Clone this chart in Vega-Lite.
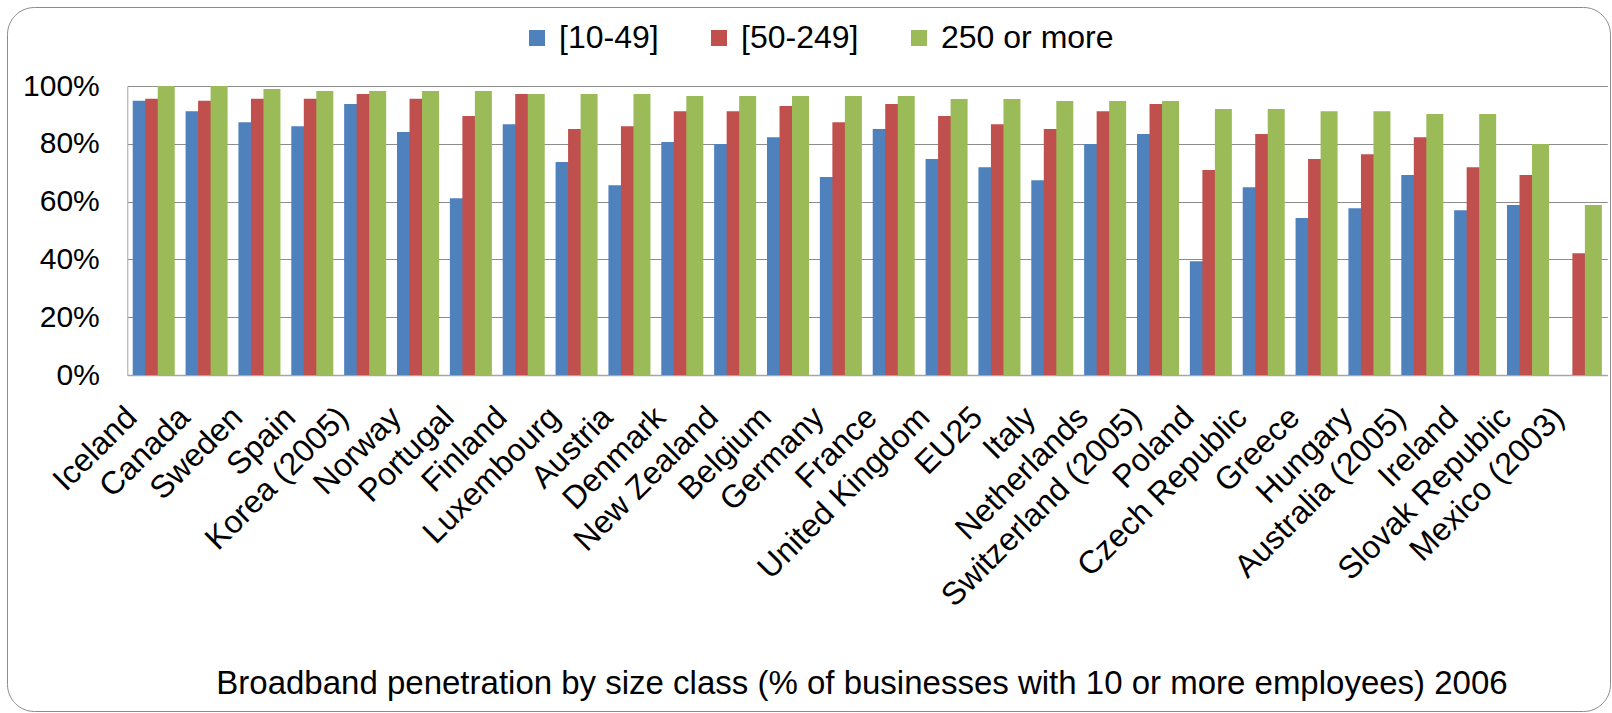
{
  "$schema": "https://vega.github.io/schema/vega-lite/v6.json",
  "width": 1603,
  "height": 704,
  "autosize": {"type": "none"},
  "padding": {"left": 7, "top": 7, "right": 2, "bottom": 2},
  "background": "white",
  "config": {
    "view": {"stroke": "#8C8C8C", "strokeWidth": 1, "cornerRadius": 27, "fill": "white"},
    "font": "Liberation Sans"
  },
  "data": {
    "values": [
      {"country": "Iceland", "size": "[10-49]", "pct": 94.9},
      {"country": "Iceland", "size": "[50-249]", "pct": 95.6},
      {"country": "Iceland", "size": "250 or more", "pct": 100},
      {"country": "Canada", "size": "[10-49]", "pct": 91.3},
      {"country": "Canada", "size": "[50-249]", "pct": 94.9},
      {"country": "Canada", "size": "250 or more", "pct": 100},
      {"country": "Sweden", "size": "[10-49]", "pct": 87.5},
      {"country": "Sweden", "size": "[50-249]", "pct": 95.6},
      {"country": "Sweden", "size": "250 or more", "pct": 99.0},
      {"country": "Spain", "size": "[10-49]", "pct": 86.1},
      {"country": "Spain", "size": "[50-249]", "pct": 95.6},
      {"country": "Spain", "size": "250 or more", "pct": 98.3},
      {"country": "Korea (2005)", "size": "[10-49]", "pct": 93.8},
      {"country": "Korea (2005)", "size": "[50-249]", "pct": 97.2},
      {"country": "Korea (2005)", "size": "250 or more", "pct": 98.3},
      {"country": "Norway", "size": "[10-49]", "pct": 84.1},
      {"country": "Norway", "size": "[50-249]", "pct": 95.6},
      {"country": "Norway", "size": "250 or more", "pct": 98.3},
      {"country": "Portugal", "size": "[10-49]", "pct": 61.2},
      {"country": "Portugal", "size": "[50-249]", "pct": 89.6},
      {"country": "Portugal", "size": "250 or more", "pct": 98.3},
      {"country": "Finland", "size": "[10-49]", "pct": 86.8},
      {"country": "Finland", "size": "[50-249]", "pct": 97.2},
      {"country": "Finland", "size": "250 or more", "pct": 97.2},
      {"country": "Luxembourg", "size": "[10-49]", "pct": 73.7},
      {"country": "Luxembourg", "size": "[50-249]", "pct": 85.1},
      {"country": "Luxembourg", "size": "250 or more", "pct": 97.2},
      {"country": "Austria", "size": "[10-49]", "pct": 65.7},
      {"country": "Austria", "size": "[50-249]", "pct": 86.1},
      {"country": "Austria", "size": "250 or more", "pct": 97.2},
      {"country": "Denmark", "size": "[10-49]", "pct": 80.6},
      {"country": "Denmark", "size": "[50-249]", "pct": 91.3},
      {"country": "Denmark", "size": "250 or more", "pct": 96.5},
      {"country": "New Zealand", "size": "[10-49]", "pct": 79.9},
      {"country": "New Zealand", "size": "[50-249]", "pct": 91.3},
      {"country": "New Zealand", "size": "250 or more", "pct": 96.5},
      {"country": "Belgium", "size": "[10-49]", "pct": 82.3},
      {"country": "Belgium", "size": "[50-249]", "pct": 93.1},
      {"country": "Belgium", "size": "250 or more", "pct": 96.5},
      {"country": "Germany", "size": "[10-49]", "pct": 68.5},
      {"country": "Germany", "size": "[50-249]", "pct": 87.5},
      {"country": "Germany", "size": "250 or more", "pct": 96.5},
      {"country": "France", "size": "[10-49]", "pct": 85.1},
      {"country": "France", "size": "[50-249]", "pct": 93.8},
      {"country": "France", "size": "250 or more", "pct": 96.5},
      {"country": "United Kingdom", "size": "[10-49]", "pct": 74.7},
      {"country": "United Kingdom", "size": "[50-249]", "pct": 89.6},
      {"country": "United Kingdom", "size": "250 or more", "pct": 95.5},
      {"country": "EU25", "size": "[10-49]", "pct": 71.9},
      {"country": "EU25", "size": "[50-249]", "pct": 86.8},
      {"country": "EU25", "size": "250 or more", "pct": 95.5},
      {"country": "Italy", "size": "[10-49]", "pct": 67.4},
      {"country": "Italy", "size": "[50-249]", "pct": 85.1},
      {"country": "Italy", "size": "250 or more", "pct": 94.8},
      {"country": "Netherlands", "size": "[10-49]", "pct": 79.9},
      {"country": "Netherlands", "size": "[50-249]", "pct": 91.3},
      {"country": "Netherlands", "size": "250 or more", "pct": 94.8},
      {"country": "Switzerland (2005)", "size": "[10-49]", "pct": 83.4},
      {"country": "Switzerland (2005)", "size": "[50-249]", "pct": 93.8},
      {"country": "Switzerland (2005)", "size": "250 or more", "pct": 94.8},
      {"country": "Poland", "size": "[10-49]", "pct": 39.4},
      {"country": "Poland", "size": "[50-249]", "pct": 70.9},
      {"country": "Poland", "size": "250 or more", "pct": 92.0},
      {"country": "Czech Republic", "size": "[10-49]", "pct": 65.0},
      {"country": "Czech Republic", "size": "[50-249]", "pct": 83.4},
      {"country": "Czech Republic", "size": "250 or more", "pct": 92.0},
      {"country": "Greece", "size": "[10-49]", "pct": 54.3},
      {"country": "Greece", "size": "[50-249]", "pct": 74.7},
      {"country": "Greece", "size": "250 or more", "pct": 91.3},
      {"country": "Hungary", "size": "[10-49]", "pct": 57.7},
      {"country": "Hungary", "size": "[50-249]", "pct": 76.4},
      {"country": "Hungary", "size": "250 or more", "pct": 91.3},
      {"country": "Australia (2005)", "size": "[10-49]", "pct": 69.2},
      {"country": "Australia (2005)", "size": "[50-249]", "pct": 82.3},
      {"country": "Australia (2005)", "size": "250 or more", "pct": 90.3},
      {"country": "Ireland", "size": "[10-49]", "pct": 57.0},
      {"country": "Ireland", "size": "[50-249]", "pct": 71.9},
      {"country": "Ireland", "size": "250 or more", "pct": 90.3},
      {"country": "Slovak Republic", "size": "[10-49]", "pct": 58.8},
      {"country": "Slovak Republic", "size": "[50-249]", "pct": 69.2},
      {"country": "Slovak Republic", "size": "250 or more", "pct": 79.9},
      {"country": "Mexico (2003)", "size": "[50-249]", "pct": 42.1},
      {"country": "Mexico (2003)", "size": "250 or more", "pct": 58.8}
    ]
  },
  "mark": {"type": "bar", "size": 17},
  "encoding": {
    "x": {
      "field": "country",
      "type": "nominal",
      "sort": null,
      "scale": {"range": [120.3, 1600.3], "paddingInner": 0.29, "paddingOuter": 0.145},
      "axis": {
        "title": "Broadband penetration by size class (% of businesses with 10 or more employees) 2006",
        "titleFont": "Liberation Sans",
        "titleFontSize": 33,
        "titleFontWeight": "normal",
        "titleColor": "black",
        "titleBaseline": "alphabetic",
        "titleAlign": "center",
        "titleAnchor": "middle",
        "titleX": 854.5,
        "titleY": 318,
        "offset": -336,
        "labelAngle": -45,
        "labelAlign": "right",
        "labelBaseline": "alphabetic",
        "labelFont": "Liberation Sans",
        "labelFontSize": 32,
        "labelColor": "black",
        "labelPadding": 44,
        "labelOffset": -15,
        "labelLimit": 0,
        "labelOverlap": false,
        "labelBound": false,
        "labelFlush": false,
        "ticks": false,
        "tickSize": 0,
        "domain": true,
        "domainColor": "#A6A6A6",
        "domainWidth": 1.5,
        "grid": false
      }
    },
    "xOffset": {
      "field": "size",
      "type": "nominal",
      "scale": {"domain": ["[10-49]", "[50-249]", "250 or more"], "paddingInner": 0, "paddingOuter": 0}
    },
    "y": {
      "field": "pct",
      "type": "quantitative",
      "scale": {"domain": [0, 100], "nice": false, "zero": true, "range": [368, 79]},
      "axis": {
        "title": null,
        "offset": -120.3,
        "values": [0, 20, 40, 60, 80, 100],
        "labelExpr": "datum.value + '%'",
        "labelFont": "Liberation Sans",
        "labelFontSize": 30,
        "labelColor": "black",
        "labelPadding": 28,
        "ticks": false,
        "tickSize": 0,
        "domain": true,
        "domainColor": "#A6A6A6",
        "domainWidth": 1,
        "grid": true,
        "gridColor": "#8C8C8C",
        "gridWidth": 1
      }
    },
    "color": {
      "field": "size",
      "type": "nominal",
      "scale": {
        "domain": ["[10-49]", "[50-249]", "250 or more"],
        "range": ["#4F81BD", "#C0504D", "#9BBB59"]
      },
      "legend": {
        "title": null,
        "orient": "none",
        "direction": "horizontal",
        "legendX": 514,
        "legendY": 15,
        "padding": 0,
        "symbolType": "square",
        "symbolSize": 256,
        "symbolStrokeWidth": 0,
        "symbolOpacity": 1,
        "labelFont": "Liberation Sans",
        "labelFontSize": 32,
        "labelColor": "black",
        "labelOffset": 6,
        "labelLimit": 0,
        "columnPadding": 44
      }
    }
  }
}
